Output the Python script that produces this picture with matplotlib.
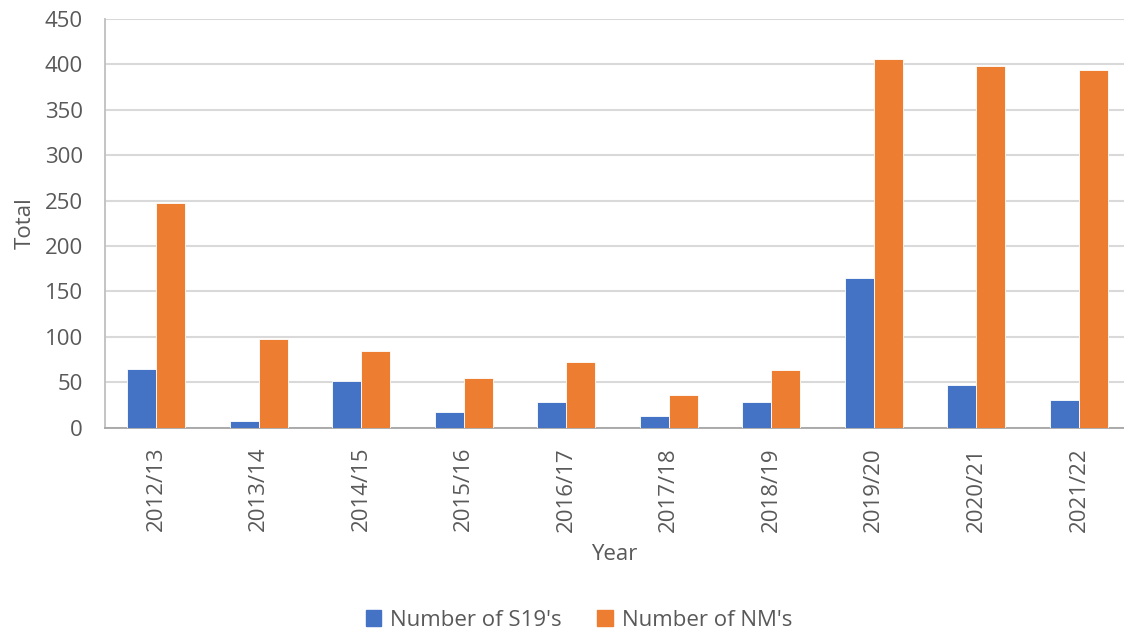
import numpy as np
import matplotlib
matplotlib.use("Agg")
import matplotlib.pyplot as plt
from matplotlib.patches import Patch

years = ['2012/13', '2013/14', '2014/15', '2015/16', '2016/17',
         '2017/18', '2018/19', '2019/20', '2020/21', '2021/22']
s19 = [65, 7, 51, 17, 28, 13, 28, 165, 47, 30]
nm = [247, 97, 84, 55, 72, 36, 63, 406, 398, 394]

plt.rcParams['font.family'] = ['Open Sans', 'DejaVu Sans']
text_col = '#595959'
blue = '#4472C4'
orange = '#ED7D31'

fig = plt.figure(figsize=(11.24, 6.3), dpi=100)
ax = fig.add_axes([0.0934, 0.3214, 0.9066, 0.6484])

x = np.arange(len(years))
w = 0.283
ax.bar(x - w / 2, s19, w, color=blue, edgecolor='white', linewidth=0.6, zorder=3)
ax.bar(x + w / 2, nm, w, color=orange, edgecolor='white', linewidth=0.6, zorder=3)

ax.set_ylim(0, 450)
ax.set_yticks(range(0, 451, 50))
ax.set_xlim(-0.5, 9.44)
ax.set_xticks(x)
ax.set_xticklabels(years, rotation=90)

ax.grid(axis='y', color='#d9d9d9', linewidth=1.5, zorder=0)
for s in ['top', 'right']:
    ax.spines[s].set_visible(False)
ax.spines['left'].set_color('#bfbfbf')
ax.spines['bottom'].set_color('#a6a6a6')
ax.spines['left'].set_linewidth(1.3)
ax.spines['bottom'].set_linewidth(1.3)
ax.tick_params(axis='both', length=0, labelsize=16, colors=text_col)
ax.tick_params(axis='x', pad=14)
ax.tick_params(axis='y', pad=16)

ax.set_ylabel('Total', fontsize=16, color=text_col, labelpad=6)
ax.set_xlabel('Year', fontsize=16, color=text_col, labelpad=9)

handles = [Patch(color=blue, label="Number of S19's"),
           Patch(color=orange, label="Number of NM's")]
fig.legend(handles=handles, loc='center', bbox_to_anchor=(0.515, 0.015),
           ncol=2, frameon=False, fontsize=16, handlelength=0.7, handleheight=0.7,
           handletextpad=0.4, columnspacing=1.6, labelcolor=text_col)

fig.savefig('out.png', dpi=100)
